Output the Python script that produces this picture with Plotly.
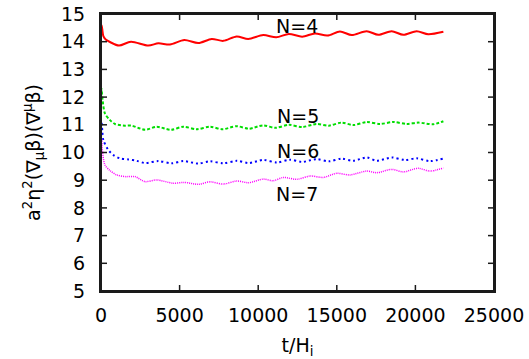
import plotly.graph_objects as go

# ---- data ----
t_n4 = [0, 30, 80, 150, 300, 600, 1145, 1908, 3010, 3650, 4390, 5300, 6190, 7040, 7780, 8630, 9370,
        10320, 11150, 11950, 12800, 13610, 14400, 15200, 15950, 16900, 17640, 18490, 19230, 20080, 20820, 21780]
v_n4 = [5.9, 14.6, 14.45, 14.2, 14.08, 13.98, 13.86, 14.0, 13.86, 13.94, 13.9, 14.06, 13.95, 14.1, 14.03, 14.19, 14.1,
        14.24, 14.16, 14.28, 14.18, 14.3, 14.22, 14.37, 14.24, 14.38, 14.25, 14.38, 14.25, 14.38, 14.27, 14.36]

t_n5 = [0, 30, 100, 250, 570, 890, 1530, 1950, 2800, 3540, 4450, 5240, 6090, 6930, 7740, 8630, 9410,
        10320, 11100, 11950, 12800, 13700, 14500, 15310, 16050, 16900, 17750, 18600, 19450, 20180, 21140, 21780]
v_n5 = [5.9, 12.3, 11.9, 11.41, 11.17, 11.03, 10.97, 10.97, 10.82, 10.93, 10.82, 10.93, 10.84, 10.93, 10.84, 10.95, 10.86,
        10.98, 10.89, 11.0, 10.92, 11.03, 10.97, 11.08, 10.99, 11.10, 11.03, 11.10, 11.03, 11.08, 11.02, 11.13]

t_n6 = [0, 30, 80, 150, 470, 780, 1210, 1740, 2270, 2800, 3640, 4490, 5240, 6190, 6930, 7780, 8630, 9410,
        10320, 11200, 12000, 12800, 13700, 14500, 15300, 16050, 16900, 17540, 18490, 19340, 20080, 20930, 21780]
v_n6 = [5.9, 11.1, 10.8, 10.45, 10.09, 9.91, 9.79, 9.75, 9.70, 9.62, 9.69, 9.61, 9.69, 9.60, 9.68, 9.61, 9.70, 9.62,
        9.73, 9.64, 9.74, 9.66, 9.76, 9.68, 9.78, 9.70, 9.82, 9.70, 9.82, 9.73, 9.79, 9.69, 9.78]

t_n7 = [0, 30, 100, 250, 570, 1000, 1530, 2160, 2800, 3540, 4600, 5340, 6190, 6930, 7780, 8630, 9410,
        10320, 10950, 11600, 12450, 13300, 14140, 14990, 15840, 16900, 17540, 18490, 19230, 20180, 20930, 21780]
v_n7 = [5.9, 10.5, 10.0, 9.55, 9.35, 9.19, 9.13, 9.13, 8.95, 9.01, 8.89, 8.92, 8.85, 8.94, 8.86, 8.97, 8.91,
        9.04, 8.98, 9.10, 9.03, 9.15, 9.10, 9.25, 9.19, 9.33, 9.27, 9.39, 9.30, 9.43, 9.33, 9.44]

series_labels = ["N=4", "N=5", "N=6", "N=7"]
label_t = [12470, 12500, 12500, 12450]
label_v = [14.57, 11.32, 10.04, 8.5]

x_ticks = [0, 5000, 10000, 15000, 20000, 25000]
y_ticks = [5, 6, 7, 8, 9, 10, 11, 12, 13, 14, 15]
x_range = [0, 25000]
y_range = [5, 15]

FONT = "DejaVu Sans, sans-serif"
FRAME = "#1a1a1a"
W, H = 529, 359
M = dict(l=101, r=35, t=14, b=68)

fig = go.Figure()
styles = [
    ("#ff0000", "solid", 2.0),
    ("#00dd00", "3px,2px", 2.0),
    ("#0000ff", "2px,3px", 2.0),
    ("#ff00ff", "1px,1px", 1.5),
]
for (t, v), (c, d, w) in zip([(t_n4, v_n4), (t_n5, v_n5), (t_n6, v_n6), (t_n7, v_n7)], styles):
    fig.add_trace(go.Scatter(x=t, y=v, mode="lines",
                             line=dict(color=c, dash=d, width=w, shape="spline", smoothing=0.8),
                             showlegend=False, hoverinfo="skip"))

# inward tick marks drawn as a line trace (derived from the tick lists / ranges)
plot_w = W - M["l"] - M["r"]
plot_h = H - M["t"] - M["b"]
tick_px = 6
dx = tick_px / plot_w * (x_range[1] - x_range[0])
dy = tick_px / plot_h * (y_range[1] - y_range[0])
fx, fy = [], []
for xt in x_ticks[1:-1]:
    fx += [xt, xt, None, xt, xt, None]
    fy += [y_range[0], y_range[0] + dy, None, y_range[1], y_range[1] - dy, None]
for yt in y_ticks[1:-1]:
    fx += [x_range[0], x_range[0] + dx, None, x_range[1], x_range[1] - dx, None]
    fy += [yt, yt, None, yt, yt, None]
fig.add_trace(go.Scatter(x=fx, y=fy, mode="lines", line=dict(color=FRAME, width=1.5),
                         showlegend=False, hoverinfo="skip"))

for lab, tx, vy in zip(series_labels, label_t, label_v):
    fig.add_annotation(x=tx, y=vy, xref="x", yref="y", text=lab, showarrow=False,
                       font=dict(family=FONT, size=19, color="black"),
                       xanchor="center", yanchor="middle")

# frame
fig.add_shape(type="rect", xref="paper", yref="paper", x0=0, y0=0, x1=1, y1=1,
              line=dict(color=FRAME, width=2), fillcolor="rgba(0,0,0,0)", layer="above")

axis_common = dict(showline=True, linecolor=FRAME, linewidth=2, mirror=True,
                   ticks="", showgrid=False, zeroline=False, automargin=False,
                   tickfont=dict(family=FONT, size=19, color="black"))

fig.update_xaxes(range=x_range, tickvals=x_ticks, ticktext=[str(v) for v in x_ticks],
                 ticklabelstandoff=6,
                 title=dict(text="t/H<sub>i</sub>", font=dict(family=FONT, size=19, color="black")),
                 **axis_common)
fig.update_yaxes(range=y_range, tickvals=y_ticks, ticktext=[str(v) for v in y_ticks],
                 ticklabelstandoff=10,
                 title=dict(text="a<sup>2</sup>η<sup>2</sup>(∇<sub>μ</sub>β)(∇<sup>μ</sup>β)",
                            font=dict(family=FONT, size=19, color="black")),
                 **axis_common)

fig.update_layout(width=W, height=H, margin=M,
                  paper_bgcolor="white", plot_bgcolor="white")

fig.write_html("out.html", config={"displayModeBar": False},
               post_script="document.body.style.margin='0';document.body.style.padding='0';")
